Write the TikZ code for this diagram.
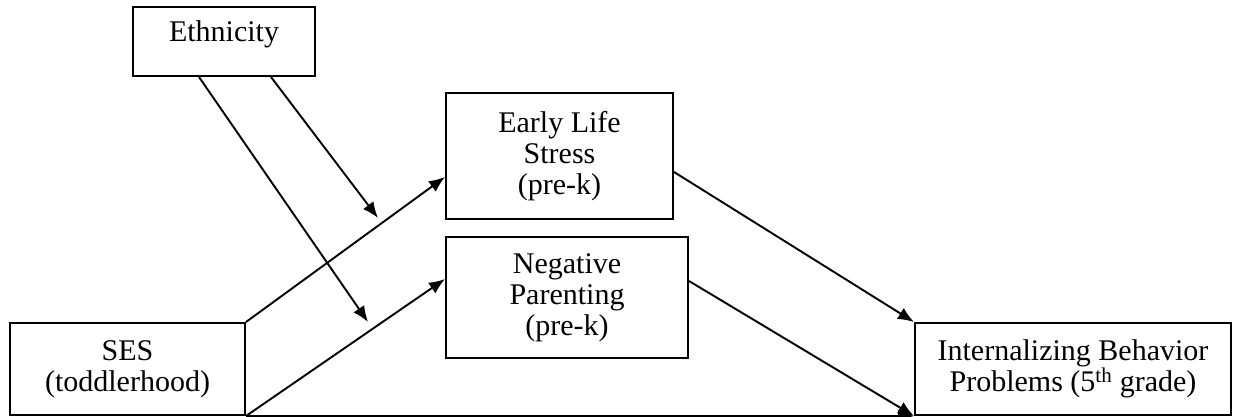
\documentclass[tikz,border=0pt]{standalone}
\usepackage{fontspec}
\setmainfont{Liberation Serif}
\usetikzlibrary{arrows.meta,calc}
\begin{document}
\begin{tikzpicture}[x=1pt,y=-1pt,
  box/.style={draw,line width=2pt,rectangle,inner sep=0pt,align=center,
    font=\fontsize{30}{31}\selectfont},
  conn/.style={line width=1.9pt,-{Latex[length=16pt,width=13pt]}},
  lbl/.style={inner sep=0pt,font=\fontsize{30}{31}\selectfont}]
\useasboundingbox (0,0) rectangle (1233,417);
\node[box,minimum width=182pt,minimum height=69pt] (eth) at (224,41.5) {};
\node[lbl,anchor=center] (ethtxt) at (224,34) {Ethnicity};
\node[box,minimum width=227pt,minimum height=126pt] (els) at (559.5,156)
  {Early Life\\Stress\\(pre-k)};
\node[box,minimum width=242pt,minimum height=121pt] (neg) at (567,297.5)
  {Negative\\Parenting\\(pre-k)};
\node[box,minimum width=235pt,minimum height=92pt] (ses) at (127.5,369)
  {SES\\(toddlerhood)};
\node[box,minimum width=316pt,minimum height=92pt] (ibp) at (1073,369)
  {Internalizing Behavior\\Problems (5\textsuperscript{th} grade)};
\coordinate (m1) at (378,218);
\coordinate (m2) at (368,322);
\draw[conn] (ses.north east) -- ($(els.north west)+(0,85)$);
\draw[conn] (ses.south east) -- ($(neg.north west)+(0,43)$);
\draw[conn] (ses.south east) -- (ibp.south west);
\draw[conn] ($(els.north east)+(0,80)$) -- (ibp.north west);
\draw[conn] ($(neg.north east)+(0,45)$) -- (ibp.south west);
\draw[conn] ($(eth.south west)+(139,0)$) -- (m1);
\draw[conn] ($(eth.south west)+(67,0)$) -- (m2);
\end{tikzpicture}
\end{document}
